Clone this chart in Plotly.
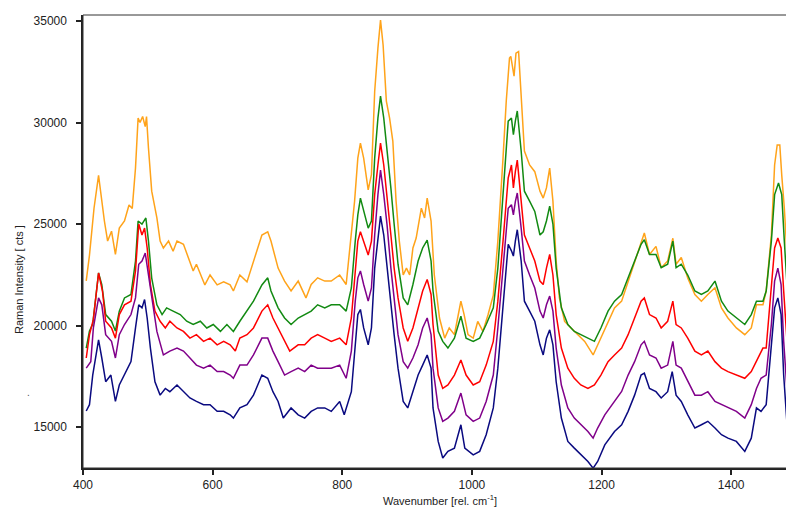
import plotly.graph_objects as go

# ---- data (wavenumber, intensity) ----
orange_x = [405,410,417,424,433,438,444,450,456,464,471,476,481,485,488,492,496,498,501,506,514,519,524,532,539,545,555,565,570,575,588,596,607,617,627,632,642,653,663,676,685,690,701,711,721,732,744,752,762,773,783,796,806,811,819,824,828,833,840,845,850,855,859,863,868,873,878,883,888,894,899,904,909,914,922,927,931,937,942,950,958,965,973,978,983,988,994,1002,1009,1017,1025,1033,1040,1048,1053,1058,1060,1065,1068,1072,1076,1081,1089,1097,1105,1110,1115,1120,1125,1130,1135,1143,1153,1163,1174,1187,1194,1205,1220,1231,1241,1251,1261,1266,1274,1284,1292,1302,1310,1315,1323,1333,1344,1354,1364,1375,1385,1395,1408,1421,1431,1439,1449,1454,1462,1467,1471,1475,1478,1482,1488,1493,1498]
orange_y = [22200,23470,25780,27400,25150,24160,24650,23500,24800,25150,25940,25770,27760,30220,30000,30300,29800,30300,28750,26620,25300,24160,23820,24160,23660,24160,24000,23180,22690,23020,22000,22490,22000,22150,22000,21700,22490,22150,23180,24460,24620,24160,22830,22190,21700,22190,21360,22020,22350,22190,22190,22490,22020,23470,26130,28250,28990,28250,26680,27430,31530,33670,35050,33820,31060,30220,29090,26130,24160,22490,22830,22490,23820,24310,25780,25300,26280,25150,22490,20370,19380,19880,19550,20370,21200,20540,19550,19380,20200,19710,20540,21500,24160,28250,31060,33180,33260,32290,33420,33500,31360,28600,27910,27580,26620,26280,26780,27760,26130,23180,21360,20200,19880,19550,19220,18550,19050,19880,20870,21200,22190,23180,24160,24560,23500,23900,22850,23180,24300,23020,23350,22340,21530,21200,21530,21860,20870,20370,19880,19550,19880,21020,21020,21700,24460,27910,28900,28900,27410,25780,22490,18400,16430]

green_x = [405,410,415,424,429,435,444,450,456,464,474,481,485,491,497,501,506,514,522,529,539,550,560,570,581,591,601,612,622,632,642,653,663,676,685,690,701,711,721,732,742,752,762,773,783,796,806,814,820,824,828,833,840,845,850,855,859,864,869,875,880,886,894,901,909,917,924,931,937,940,948,955,963,973,983,991,1002,1012,1022,1033,1040,1048,1056,1061,1064,1067,1070,1076,1081,1089,1097,1105,1110,1115,1120,1125,1130,1138,1148,1158,1168,1179,1189,1199,1210,1220,1231,1241,1251,1261,1266,1274,1284,1292,1302,1310,1315,1323,1333,1344,1354,1364,1375,1385,1395,1408,1421,1431,1439,1449,1454,1462,1467,1473,1478,1482,1488,1493,1498]
green_y = [18890,19730,20070,22590,22020,20540,20210,19730,20710,21360,21530,23180,25150,25000,25300,24160,22340,21020,20540,20870,20710,20540,20210,20050,20210,19880,20050,19710,20050,19710,20210,20710,21200,22000,22350,21700,20870,20370,20050,20370,20540,20710,21020,20870,21020,21020,20710,21850,24160,25450,26280,25620,24800,25150,28250,30220,31300,30220,28750,26770,25000,23020,21360,21020,22020,23180,23820,24210,23180,21700,19710,19220,18890,19380,20460,19380,19220,19380,20050,20870,22830,26430,30070,30220,29400,30070,30570,28600,26620,26130,25620,24460,24620,25150,25880,25000,22830,20870,20050,19710,19550,19380,19220,19880,20710,21200,21530,22350,23180,24000,24230,23500,23500,22850,23020,24160,22850,23020,22490,21700,21530,21700,22190,21200,20710,20370,20050,20540,21200,21200,21700,24160,26450,27020,26450,24160,20870,18400,17070]

red_x = [405,410,416,424,430,435,444,450,456,464,474,481,486,491,495,499,504,511,519,527,534,545,555,565,575,586,596,607,617,627,635,642,653,663,676,685,693,701,711,719,732,742,752,762,773,783,796,806,814,820,824,828,833,840,845,850,855,859,864,869,875,880,886,894,901,909,917,924,931,937,940,948,955,963,973,983,991,1002,1012,1022,1033,1040,1048,1056,1061,1064,1067,1070,1076,1081,1089,1097,1105,1110,1115,1120,1125,1130,1138,1148,1158,1168,1179,1189,1199,1210,1220,1231,1241,1251,1261,1266,1274,1284,1292,1302,1310,1315,1323,1333,1344,1354,1364,1375,1385,1395,1408,1421,1431,1439,1449,1454,1462,1467,1472,1477,1481,1488,1493,1497,1500]
red_y = [18400,19550,20300,22590,21700,20210,19880,19380,20540,21020,21200,22690,25000,24460,24800,23820,22020,20710,20210,19880,20210,19880,19710,19380,19550,19220,19380,19050,19220,19050,18740,19380,19550,19880,20710,21020,20370,19880,19220,18740,19050,19050,19380,19550,19380,19220,19380,19050,20370,22830,24160,24620,24160,23470,24160,26450,27910,28990,27910,26450,24460,22830,21360,19880,19220,19880,20870,21700,22270,21530,20050,17560,16900,17070,17560,18300,17560,17070,17230,18050,19220,21200,24160,27270,27910,26780,27580,28150,26130,24460,23820,23180,22190,22020,22830,23500,22490,20540,18890,17900,17400,17070,16900,17070,17560,18220,18550,18890,19550,20370,21200,21360,20540,20370,19880,20210,21200,20050,19880,19380,18740,18550,18740,18220,17900,17730,17560,17400,17730,18220,18890,18890,21700,23820,24310,23820,21700,18400,15940,14950,14800]

purple_x = [405,412,416,424,429,435,444,450,456,464,474,481,486,491,496,501,506,514,524,534,545,555,565,575,586,596,607,617,627,632,642,653,663,676,685,693,701,711,721,732,742,752,762,773,783,796,806,814,820,824,828,833,840,845,850,855,859,864,869,875,880,886,894,901,909,917,924,931,937,940,948,955,963,973,983,991,1002,1012,1022,1033,1040,1048,1056,1061,1064,1067,1070,1076,1081,1089,1097,1105,1110,1115,1120,1125,1130,1138,1148,1158,1168,1179,1187,1194,1205,1220,1231,1241,1251,1261,1266,1274,1284,1292,1302,1310,1315,1323,1333,1344,1354,1364,1375,1385,1395,1408,1421,1431,1439,1446,1454,1462,1467,1472,1477,1481,1488,1493,1497]
purple_y = [17900,18220,19880,21360,21020,19550,19220,18400,19550,20050,20540,21360,23020,23180,23570,22490,21200,19710,18550,18740,18890,18740,18400,18050,17900,18050,17730,17730,17560,17400,18050,18050,18550,19380,19380,18740,18220,17560,17730,17900,17730,18050,17900,17900,17900,18050,17400,18740,21200,22350,22690,22020,21200,21850,24460,26450,27660,26450,24980,22830,21200,19550,18220,17900,18400,19050,19880,20370,19550,17900,15940,15280,15440,15770,16670,15600,15280,15440,16260,17560,19880,22830,25780,25950,25450,26110,26530,24800,23180,22490,21850,20710,20370,21020,21450,20710,18890,17070,15940,15440,15110,14780,14450,14950,15600,16260,16750,17560,18220,19050,19220,18550,18400,17900,18050,19220,18050,17900,17230,16570,16570,16740,16260,16100,15940,15770,15440,16100,16900,17400,17560,20050,22190,22830,22020,19220,15940,13620,12800]

navy_x = [405,410,415,424,429,435,443,450,456,464,474,481,486,491,495,499,504,511,519,527,534,545,555,565,575,586,596,607,617,627,632,642,653,663,676,685,693,701,709,721,732,742,752,762,773,783,796,803,814,820,824,828,833,840,845,850,855,859,864,869,875,880,886,894,901,909,917,924,931,937,940,948,955,963,973,983,989,1002,1012,1022,1033,1040,1048,1056,1061,1064,1067,1070,1076,1081,1089,1097,1105,1110,1115,1120,1125,1130,1138,1148,1158,1168,1179,1187,1194,1205,1220,1231,1241,1251,1261,1266,1274,1284,1292,1302,1309,1315,1323,1333,1344,1354,1364,1375,1385,1395,1408,1421,1431,1439,1446,1454,1462,1467,1472,1477,1481,1488,1493,1497]
navy_y = [15790,16100,17560,19290,18400,17230,17560,16260,17070,17560,18220,19880,21020,20870,21280,20370,18890,17230,16570,16900,16740,17070,16740,16430,16260,16100,16100,15770,15770,15600,15440,15940,16100,16570,17560,17400,16740,16260,15440,15940,15600,15440,15770,15940,15940,15770,16260,15600,16740,19220,20540,20790,19880,19050,19880,22830,24460,25390,24460,22830,21200,19550,17900,16260,15940,16740,17560,18050,18550,17900,15940,14290,13470,13800,13960,15110,13960,13630,13800,14620,15940,17900,20870,24000,23680,23420,24160,24720,23180,21200,20710,20210,19050,18550,19380,19790,19050,17230,15440,14290,13960,13630,13300,12970,13300,14120,14780,15110,15770,16570,17560,17650,16900,16740,16430,16740,17730,16570,16260,15600,14950,15110,15280,14950,14620,14450,14290,13800,14450,15940,15770,16100,19220,20870,21360,20540,17560,14290,12970,12500]

x_ticks = [400, 600, 800, 1000, 1200, 1400]
y_ticks = [15000, 20000, 25000, 30000, 35000]

series = [
    ("orange", orange_x, orange_y, "#FFA31A"),
    ("green", green_x, green_y, "#128A12"),
    ("red", red_x, red_y, "#FF0000"),
    ("purple", purple_x, purple_y, "#80008A"),
    ("navy", navy_x, navy_y, "#0A0A80"),
]

fig = go.Figure()
for name, xs, ys, col in series:
    fig.add_trace(go.Scatter(x=xs, y=ys, mode="lines", name=name,
                             line=dict(color=col, width=1.5), showlegend=False))

font = "Liberation Sans, Arial, sans-serif"
fig.update_layout(
    width=794, height=511,
    margin=dict(l=75, r=6, t=7, b=51),
    paper_bgcolor="white", plot_bgcolor="white",
    font=dict(family=font, size=12, color="#222"),
    xaxis=dict(range=[400, 1500], tickvals=x_ticks, ticktext=[str(v) for v in x_ticks],
               showgrid=False, zeroline=False,
               showline=True, linecolor="#222", linewidth=2,
               ticks="outside", ticklen=5, tickwidth=1.5, tickcolor="#222",
               tickfont=dict(size=12, color="#222")),
    yaxis=dict(range=[12980, 35300], tickvals=y_ticks,
               ticktext=[str(v) + "\u00a0\u00a0" for v in y_ticks],
               showgrid=False, zeroline=False,
               showline=True, linecolor="#222", linewidth=2,
               ticks="outside", ticklen=5, tickwidth=1.5, tickcolor="#222",
               tickfont=dict(size=12, color="#222")),
    shapes=[dict(type="rect", xref="paper", yref="paper", x0=0, y0=0, x1=1, y1=1,
                 line=dict(color="#333", width=1), layer="above")],
    annotations=[
        dict(text="Wavenumber [rel. cm<sup>-1</sup>]", xref="paper", yref="paper",
             x=0.5, y=0, xanchor="center", yanchor="middle", showarrow=False,
             yshift=-32, font=dict(size=11, color="#222")),
        dict(text="Raman Intensity [ cts ]", xref="paper", yref="paper",
             x=0, y=0.415, xanchor="center", yanchor="middle", textangle=-90,
             showarrow=False, font=dict(size=11, color="#222"), xshift=-64),
        dict(text=".", xref="paper", yref="paper", x=0, y=0.166,
             xanchor="center", yanchor="middle", showarrow=False,
             font=dict(size=10, color="#555"), xshift=-55),
    ],
)

fig.write_html("out.html")
